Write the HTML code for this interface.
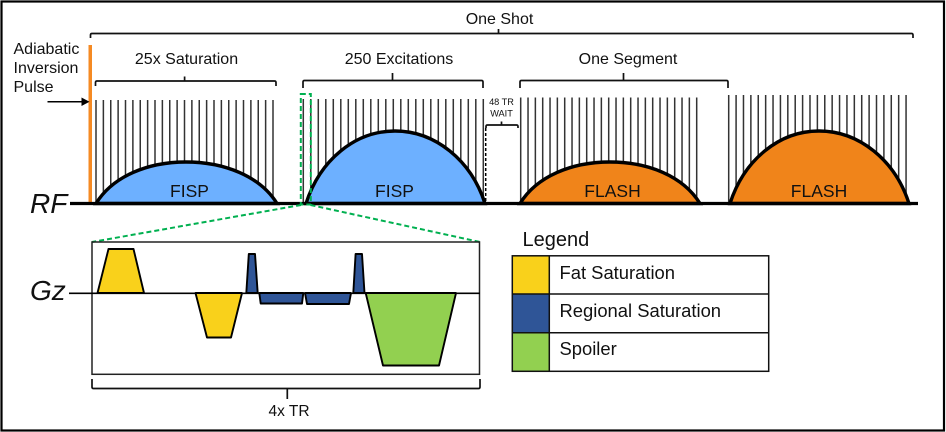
<!DOCTYPE html>
<html><head><meta charset="utf-8"><style>
html,body{margin:0;padding:0;background:#fff}
svg{display:block;filter:blur(.3px)}
text{font-family:"Liberation Sans",sans-serif;fill:#111}
.s{stroke:#333;stroke-width:1.5;fill:none}
.b{fill:none;stroke:#111;stroke-width:1.7}
.t{stroke:#000;stroke-width:1.9;stroke-linejoin:round}
.d{stroke:#000;stroke-width:3.4}
</style></head><body>
<svg width="946" height="432" viewBox="0 0 946 432" xmlns="http://www.w3.org/2000/svg">
<rect x="1.500" y="1.500" width="942.500" height="429" fill="#fff" stroke="#000" stroke-width="2.200"/>

<!-- brackets -->
<path class="b" d="M90.500 38V35Q90.500 33.500 92 33.500H911.500Q913 33.500 913 35V38M498.500 33.500V29"/>
<path class="b" d="M95.500 86V82.500Q95.500 81 97 81H274.500Q276 81 276 82.500V86M184.600 81V76.500"/>
<path class="b" d="M303 88V82Q303 80.500 304.500 80.500H481.500Q483 80.500 483 82V88M392.500 80.500V73"/>
<path class="b" d="M520 88V82Q520 80.500 521.500 80.500H726.500Q728 80.500 728 82V88M623.500 80.500V73"/>
<path class="b" d="M486 128V126.500Q486 125 487.500 125H516.500Q518 125 518 126.500V128M501.500 125V121.500"/>
<path class="b" d="M92 379V387Q92 388.500 93.500 388.500H478.500Q480 388.500 480 387V379M287.300 388.500V399"/>

<!-- spikes -->
<path class="s" d="M96 100V203m7.375-103V203m7.375-103V203m7.375-103V203m7.375-103V203m7.375-103V203m7.375-103V203m7.375-103V203m7.375-103V203m7.375-103V203m7.375-103V203m7.375-103V203m7.375-103V203m7.375-103V203m7.375-103V203m7.375-103V203m7.375-103V203m7.375-103V203m7.375-103V203m7.375-103V203m7.375-103V203m7.375-103V203m7.375-103V203m7.375-103V203m7.375-103V203"/>
<path class="s" d="M303.300 99V203m7.500-104V203m7.500-104V203m7.500-104V203m7.500-104V203m7.500-104V203m7.500-104V203m7.500-104V203m7.500-104V203m7.500-104V203m7.500-104V203m7.500-104V203m7.500-104V203m7.500-104V203m7.500-104V203m7.500-104V203m7.500-104V203m7.500-104V203m7.500-104V203m7.500-104V203m7.500-104V203m7.500-104V203m7.500-104V203m7.500-104V203m7.500-104V203"/>
<path class="s" d="M520.700 97.500V203m7.333-105.500V203m7.333-105.500V203m7.333-105.500V203m7.333-105.500V203m7.333-105.500V203m7.333-105.500V203m7.333-105.500V203m7.333-105.500V203m7.333-105.500V203m7.333-105.500V203m7.333-105.500V203m7.333-105.500V203m7.333-105.500V203m7.333-105.500V203m7.333-105.500V203m7.333-105.500V203m7.333-105.500V203m7.333-105.500V203m7.333-105.500V203m7.333-105.500V203m7.333-105.500V203m7.333-105.500V203m7.333-105.500V203m7.333-105.500V203"/>
<path class="s" d="M728.700 95V203m7.390-108V203m7.390-108V203m7.390-108V203m7.390-108V203m7.390-108V203m7.390-108V203m7.390-108V203m7.390-108V203m7.390-108V203m7.390-108V203m7.390-108V203m7.390-108V203m7.390-108V203m7.390-108V203m7.390-108V203m7.390-108V203m7.390-108V203m7.390-108V203m7.390-108V203m7.390-108V203m7.390-108V203m7.390-108V203m7.390-108V203m7.390-108V203"/>

<!-- domes -->
<path class="d" fill="#6DB0FF" d="M96 203.500C113 176 148 162 186 162S260 176 277 203.500Z"/>
<path class="d" fill="#6DB0FF" d="M306 203.500C320 160 355 131 395 131S471 160 485 203.500Z"/>
<path class="d" fill="#F0841A" d="M520 203.500C537 176 572 162 610 162S683 176 700 203.500Z"/>
<path class="d" fill="#F0841A" d="M730 203.500C744 160 779 131 819 131S895 160 909 203.500Z"/>

<!-- baseline and inversion pulse -->
<rect x="88.500" y="45" width="3.500" height="158" fill="#F58A23"/>
<line x1="70" y1="203.500" x2="918" y2="203.500" stroke="#000" stroke-width="3.200"/>
<line x1="47.500" y1="101.700" x2="83" y2="101.700" stroke="#000" stroke-width="1.500"/>
<path d="M81.500 97.500L89.500 101.700L81.500 106Z" fill="#000"/>

<!-- wait dashed line -->
<line x1="485.700" y1="128" x2="485.700" y2="203" stroke="#000" stroke-width="1.500" stroke-dasharray="3 2"/>

<!-- green zoom indicators -->
<g fill="none" stroke="#00B050" stroke-width="2" stroke-dasharray="5 3">
<rect x="300.800" y="94" width="10" height="110.500"/>
<line x1="301" y1="205" x2="92" y2="242"/>
<line x1="310.500" y1="205" x2="480" y2="242"/>
</g>

<!-- Gz box -->
<rect x="92" y="242" width="387.500" height="132.300" fill="none" stroke="#222" stroke-width="1.500"/>
<line x1="69" y1="293.300" x2="480" y2="293.300" stroke="#000" stroke-width="1.700"/>
<path class="t" fill="#F9D11B" d="M97.500 293L108.500 249H133.500L144 293Z"/>
<path class="t" fill="#F9D11B" d="M195.500 293L207 337.500H231L242 293Z"/>
<path class="t" fill="#2F5597" d="M246.300 293L248.800 254H255L257.700 293Z"/>
<path class="t" fill="#2F5597" d="M259.300 293L260.700 303.500H302L303.300 293Z"/>
<path class="t" fill="#2F5597" d="M305 293L307 304H349L351 293Z"/>
<path class="t" fill="#2F5597" d="M353.300 293L355.600 254H362L364.500 293Z"/>
<path class="t" fill="#92D050" d="M365.700 293L383 365.500H439L456 293Z"/>

<!-- legend -->
<rect x="512.300" y="256" width="37" height="38" fill="#F9D11B"/>
<rect x="512.300" y="294" width="37" height="38.700" fill="#2F5597"/>
<rect x="512.300" y="332.700" width="37" height="38.600" fill="#92D050"/>
<g fill="none" stroke="#111" stroke-width="1.500">
<rect x="512.300" y="255.800" width="256.400" height="115.500"/>
<line x1="512.300" y1="294" x2="768.700" y2="294"/>
<line x1="512.300" y1="332.700" x2="768.700" y2="332.700"/>
<line x1="549.300" y1="255.800" x2="549.300" y2="371.300"/>
</g>

<!-- text -->
<g font-size="16">
<text x="499.500" y="24" text-anchor="middle">One Shot</text>
<text x="186.500" y="64" text-anchor="middle">25x Saturation</text>
<text x="399" y="64" text-anchor="middle">250 Excitations</text>
<text x="628" y="64" text-anchor="middle">One Segment</text>
<text x="13.500" y="54">Adiabatic</text>
<text x="13.500" y="73">Inversion</text>
<text x="13.500" y="92">Pulse</text>
</g>
<g font-size="17.500" text-anchor="middle">
<text x="189.500" y="197">FISP</text>
<text x="394.500" y="197">FISP</text>
<text x="612.500" y="197">FLASH</text>
<text x="819" y="197">FLASH</text>
</g>
<g font-size="28" font-style="italic">
<text x="30" y="213">RF</text>
<text x="30" y="300">Gz</text>
</g>
<g font-size="9.200" text-anchor="middle">
<text x="501.500" y="105">48 TR</text>
<text x="501.500" y="116.500">WAIT</text>
</g>
<text x="289" y="416" font-size="15.500" text-anchor="middle">4x TR</text>
<text x="522.500" y="246" font-size="20">Legend</text>
<g font-size="18.400">
<text x="559.500" y="279">Fat Saturation</text>
<text x="559.500" y="317">Regional Saturation</text>
<text x="559.500" y="355">Spoiler</text>
</g>
</svg>
</body></html>
